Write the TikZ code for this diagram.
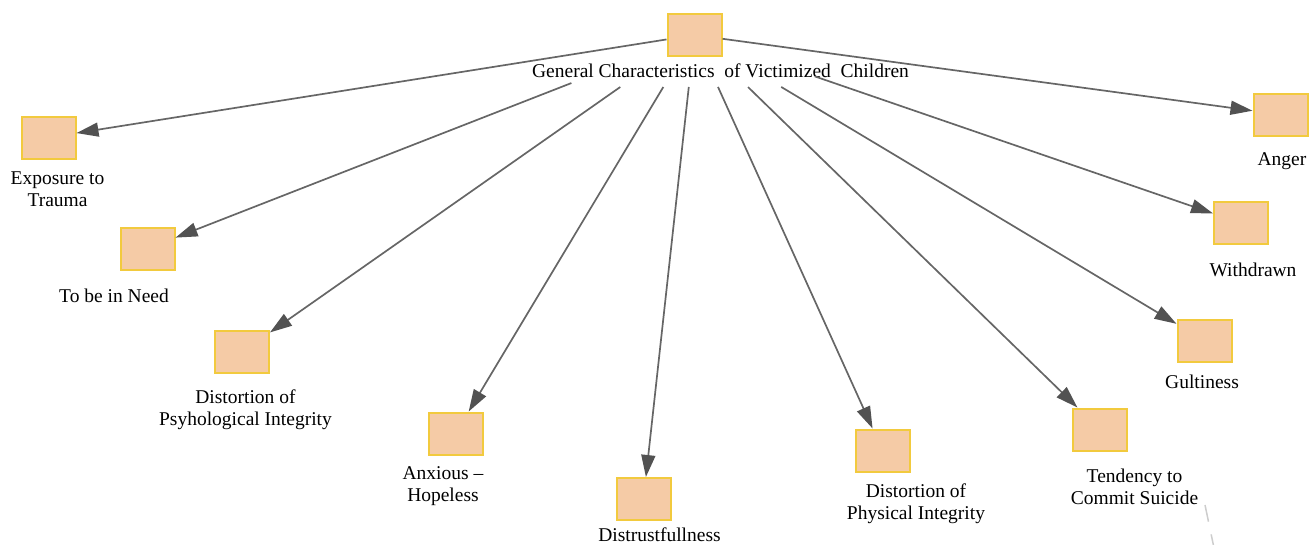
\documentclass[tikz,border=0pt]{standalone}
\usepackage{fontspec}
\setmainfont{Liberation Serif}
\usetikzlibrary{arrows.meta,calc}
\definecolor{boxfill}{RGB}{245,203,166}
\definecolor{boxline}{RGB}{242,202,62}
\definecolor{edgecol}{RGB}{102,102,102}
\definecolor{tipcol}{RGB}{82,82,82}
\definecolor{faint}{RGB}{205,205,205}
\begin{document}
\begin{tikzpicture}[x=1pt,y=-1pt,
  box/.style={draw=boxline, fill=boxfill, line width=2pt, minimum width=54pt, minimum height=42pt, inner sep=0pt},
  lbl/.style={font=\fontsize{19.5}{22}\selectfont, align=center, inner sep=0pt, text=black},
  link/.style={draw=edgecol, line width=1.7pt, -{Triangle[length=22pt,width=14pt,color=tipcol]}}]
\useasboundingbox (0,0) rectangle (1316,544);
% boxes
\node[box] (root) at (694.5,35) {};
\node[box] (exp) at (48.5,137.5) {};
\node[box] (need) at (147.5,248.5) {};
\node[box] (psy) at (242,352) {};
\node[box] (anx) at (455.5,433.5) {};
\node[box] (dis) at (643.5,499) {};
\node[box] (phy) at (882.5,450.5) {};
\node[box] (ten) at (1100,429.5) {};
\node[box] (gul) at (1204.5,340.5) {};
\node[box] (wit) at (1241,223) {};
\node[box] (ang) at (1280.5,114.5) {};
% labels
\node[lbl] (root-l) at (720.5,71) {General Characteristics\ \ of Victimized\ \ Children};
\node[lbl] (exp-l) at (57.5,189.5) {Exposure to\\Trauma};
\node[lbl] (need-l) at (114,296) {To be in Need};
\node[lbl] (psy-l) at (245.5,410) {Distortion of\\Psyhological Integrity};
\node[lbl] (anx-l) at (443,486.5) {Anxious –\\Hopeless};
\node[lbl] (dis-l) at (659.5,535) {Distrustfullness};
\node[lbl] (phy-l) at (916,504) {Distortion of\\Physical Integrity};
\node[lbl] (ten-l) at (1134.5,486.5) {Tendency to\\Commit Suicide};
\node[lbl] (gul-l) at (1202,382) {Gultiness};
\node[lbl] (wit-l) at (1253,270) {Withdrawn};
\node[lbl] (ang-l) at (1282,161) {Anger};
% connectors
\draw[link] (root) -- (exp);
\draw[link] ($(root)!0.225!(need)$) -- (need);
\draw[link] ($(root)!0.164!(psy)$) -- (psy);
\draw[link] ($(root)!0.1305!(anx)$) -- (anx);
\draw[link] ($(root)!0.112!(dis)$) -- (dis);
\draw[link] ($(root)!0.125!(phy)$) -- (phy);
\draw[link] ($(root)!0.132!(ten)$) -- (ten);
\draw[link] ($(root)!0.170!(gul)$) -- (gul);
\draw[link] ($(root)!0.2205!(wit)$) -- (wit);
\draw[link] (root) -- (ang);
% faint marks at bottom right
\coordinate (f1) at (1205,505);
\coordinate (f2) at (1214,548);
\draw[draw=faint, line width=1.5pt, dash pattern=on 17pt off 13pt] (f1) -- (f2);
\end{tikzpicture}
\end{document}
